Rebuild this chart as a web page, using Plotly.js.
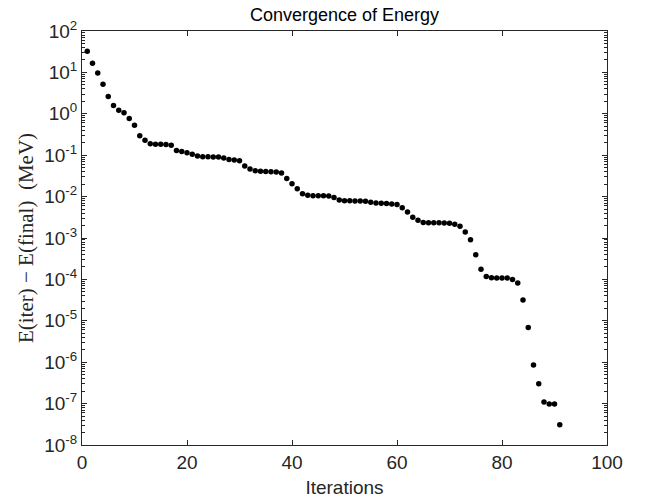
<!DOCTYPE html>
<html>
<head>
<meta charset="utf-8">
<script src="https://cdn.plot.ly/plotly-3.0.1.min.js"></script>
<style>html,body{margin:0;padding:0;background:#fff;}#chart{width:646px;height:500px;}</style>
</head>
<body>
<div id="chart"></div>
<script>
const iterations = [];
for (let i = 1; i <= 91; i++) iterations.push(i);

const energyDiff = [
  32.4, 16.6, 9.72, 5.18, 2.61, 1.585, 1.22, 1.054, 0.77, 0.532,
  0.294, 0.231, 0.188, 0.185, 0.185, 0.182, 0.175, 0.130, 0.123, 0.114,
  0.106, 0.095, 0.0916, 0.0916, 0.0899, 0.0899, 0.0851, 0.0782, 0.0761, 0.0733,
  0.0551, 0.0461, 0.0421, 0.0411, 0.0404, 0.0397, 0.0391, 0.0374, 0.0275, 0.0204,
  0.01545, 0.01172, 0.01077, 0.0105, 0.01054, 0.0105, 0.0103, 0.00948, 0.00826, 0.00796,
  0.0079, 0.0078, 0.0078, 0.00767, 0.00731, 0.00703, 0.00687, 0.0068, 0.0066, 0.00643,
  0.00535, 0.00423, 0.00316, 0.00269, 0.00238, 0.00234, 0.00234, 0.00234, 0.0023, 0.00228,
  0.00215, 0.00191, 0.0014, 0.00091, 0.000395, 0.000177, 0.000117, 0.000110, 0.000108, 0.000108,
  0.000108, 0.0000998, 0.000082, 0.000032, 0.00000686, 0.00000085, 0.0000003, 0.00000011, 0.0000000975, 0.0000000975,
  0.0000000309
];

const xTickVals = [0, 20, 40, 60, 80, 100];
const yTickVals = [1e2, 1e1, 1e0, 1e-1, 1e-2, 1e-3, 1e-4, 1e-5, 1e-6, 1e-7, 1e-8];
const yTickText = ['10<sup>2</sup>', '10<sup>1</sup>', '10<sup>0</sup>', '10<sup>-1</sup>', '10<sup>-2</sup>', '10<sup>-3</sup>',
  '10<sup>-4</sup>', '10<sup>-5</sup>', '10<sup>-6</sup>', '10<sup>-7</sup>', '10<sup>-8</sup>'];

const axisColor = '#262626';
const sansFont = 'Liberation Sans, Arial, sans-serif';

const trace = {
  x: iterations,
  y: energyDiff,
  type: 'scatter',
  mode: 'markers',
  marker: { color: '#000000', size: 5.5 },
  hoverinfo: 'x+y'
};

const layout = {
  width: 646,
  height: 500,
  margin: { l: 82, r: 39, t: 31, b: 55 },
  paper_bgcolor: '#ffffff',
  plot_bgcolor: '#ffffff',
  showlegend: false,
  title: {
    text: 'Convergence of Energy',
    font: { family: sansFont, size: 18, color: '#000000' },
    x: 0.5, xanchor: 'center', xref: 'paper',
    y: 1, yref: 'paper', yanchor: 'bottom', pad: { b: 10 }
  },
  xaxis: {
    range: [0, 100],
    tickmode: 'array',
    tickvals: xTickVals,
    ticktext: xTickVals.map(String),
    ticks: 'inside',
    ticklen: 5,
    tickcolor: axisColor,
    showline: true,
    linecolor: axisColor,
    linewidth: 1,
    mirror: 'allticks',
    showgrid: false,
    zeroline: false,
    tickfont: { family: sansFont, size: 19, color: axisColor },
    title: { text: 'Iterations', font: { family: sansFont, size: 19, color: axisColor }, standoff: 8 }
  },
  yaxis: {
    type: 'log',
    range: [-8, 2],
    tickmode: 'array',
    tickvals: yTickVals,
    ticktext: yTickText,
    ticks: 'inside',
    ticklen: 5,
    tickcolor: axisColor,
    minor: { ticks: 'inside', ticklen: 3, tickcolor: axisColor, dtick: 'D1', showgrid: false },
    showline: true,
    linecolor: axisColor,
    linewidth: 1,
    mirror: 'allticks',
    showgrid: false,
    zeroline: false,
    tickfont: { family: sansFont, size: 19, color: axisColor },
    title: { text: 'E(iter) \u2212 E(final)  (MeV)', font: { family: 'Liberation Serif, DejaVu Serif, serif', size: 21, color: axisColor }, standoff: 4 }
  }
};

Plotly.newPlot('chart', [trace], layout, { displayModeBar: false, staticPlot: true });
</script>
</body>
</html>
